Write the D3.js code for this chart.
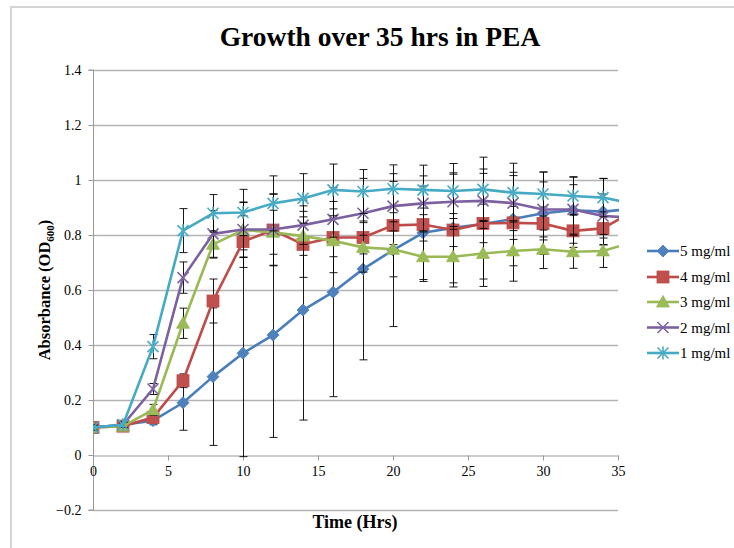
<!DOCTYPE html>
<html>
<head>
<meta charset="utf-8">
<script src="https://cdn.jsdelivr.net/npm/d3@7/dist/d3.min.js"></script>
<style>
  html, body { margin: 0; padding: 0; background: #fff; }
  svg { display: block; }
  text { font-family: "Liberation Serif", "Times New Roman", serif; fill: #000; }
</style>
</head>
<body>
<svg id="chart" width="734" height="548"></svg>
<script>
// ---- Data ----
const times = [0, 2, 4, 6, 8, 10, 12, 14, 16, 18, 20, 22, 24, 26, 28, 30, 32, 34, 36];
const seriesNames = ["5 mg/ml", "4 mg/ml", "3 mg/ml", "2 mg/ml", "1 mg/ml"];
const values5 = [0.10, 0.11, 0.125, 0.19, 0.285, 0.37, 0.436, 0.527, 0.592, 0.676, 0.745, 0.808, 0.826, 0.84, 0.858, 0.879, 0.89, 0.885, 0.895];
const errors5 = [0.01, 0.01, 0.015, 0.10, 0.25, 0.376, 0.372, 0.40, 0.38, 0.33, 0.278, 0.17, 0.20, 0.20, 0.17, 0.15, 0.12, 0.12, 0.12];
const values4 = [0.10, 0.105, 0.136, 0.27, 0.56, 0.776, 0.818, 0.766, 0.791, 0.791, 0.835, 0.838, 0.818, 0.842, 0.844, 0.842, 0.815, 0.824, 0.886];
const errors4 = [0.01, 0.01, 0.015, 0.025, 0.08, 0.094, 0.13, 0.12, 0.07, 0.06, 0.07, 0.06, 0.06, 0.07, 0.06, 0.06, 0.06, 0.06, 0.06];
const values3 = [0.10, 0.105, 0.164, 0.479, 0.766, 0.818, 0.81, 0.796, 0.779, 0.755, 0.748, 0.721, 0.721, 0.733, 0.742, 0.748, 0.739, 0.742, 0.774];
const errors3 = [0.01, 0.01, 0.02, 0.055, 0.05, 0.10, 0.08, 0.07, 0.116, 0.09, 0.10, 0.09, 0.11, 0.12, 0.11, 0.07, 0.06, 0.06, 0.06];
const values2 = [0.10, 0.11, 0.24, 0.645, 0.804, 0.82, 0.82, 0.836, 0.857, 0.879, 0.905, 0.915, 0.921, 0.924, 0.916, 0.893, 0.893, 0.869, 0.863];
const errors2 = [0.01, 0.01, 0.02, 0.057, 0.085, 0.10, 0.13, 0.07, 0.065, 0.08, 0.09, 0.10, 0.10, 0.10, 0.10, 0.10, 0.09, 0.08, 0.08];
const values1 = [0.10, 0.11, 0.394, 0.816, 0.879, 0.882, 0.915, 0.933, 0.964, 0.958, 0.968, 0.964, 0.96, 0.966, 0.954, 0.949, 0.942, 0.936, 0.914];
const errors1 = [0.01, 0.01, 0.044, 0.08, 0.068, 0.084, 0.10, 0.09, 0.094, 0.08, 0.087, 0.09, 0.10, 0.117, 0.107, 0.08, 0.07, 0.07, 0.07];
const xTicks = [0, 5, 10, 15, 20, 25, 30, 35];
const yTicks = [-0.2, 0, 0.2, 0.4, 0.6, 0.8, 1, 1.2, 1.4];

// ---- Styles ----
const colors = ["#4A7EBB", "#BE4B48", "#98B954", "#7D60A0", "#46AAC5"];
const markerFill = ["#4F81BD", "#C0504D", "#9BBB59", "#8064A2", "#4BACC6"];
const markerKind = ["diamond", "square", "triangle", "cross", "asterisk"];

const series = seriesNames.map((name, i) => ({
  name,
  values: [values5, values4, values3, values2, values1][i],
  errors: [errors5, errors4, errors3, errors2, errors1][i],
  color: colors[i], fill: markerFill[i], kind: markerKind[i]
}));

const svg = d3.select("#chart");
const x0 = 93, x1 = 618, yTop = 70, yBot = 510;

const x = d3.scaleLinear().domain([0, 35]).range([x0, x1]);
const y = d3.scaleLinear().domain([-0.2, 1.4]).range([yBot, yTop]);

// outer chart border (left/top visible)
svg.append("rect").attr("x", 11).attr("y", 7).attr("width", 800).attr("height", 600)
  .attr("fill", "none").attr("stroke", "#D4D4D4").attr("stroke-width", 2);

// title
svg.append("text").attr("x", 380).attr("y", 46).attr("text-anchor", "middle")
  .attr("font-size", 27.5).attr("font-weight", "bold").text("Growth over 35 hrs in PEA");

// gridlines
svg.append("g").selectAll("line").data(yTicks.filter(d => d !== 0)).join("line")
  .attr("x1", x0).attr("x2", x1)
  .attr("y1", d => Math.round(y(d)) + 0.5).attr("y2", d => Math.round(y(d)) + 0.5)
  .attr("stroke", "#B3B3B3").attr("stroke-width", 1.3);

// y axis
const yAxis = d3.axisLeft(y).tickValues(yTicks).tickSize(5).tickPadding(7)
  .tickFormat(d => d3.format("")(+d.toFixed(1)));
const gy = svg.append("g").attr("transform", `translate(${x0 + 0.5},0)`).call(yAxis);
gy.attr("font-family", null);
gy.select(".domain").attr("stroke", "#999").attr("d", `M-5,${yTop}H0V${yBot}H-5`);
gy.selectAll(".tick line").attr("stroke", "#999");
gy.selectAll(".tick text").attr("font-size", 14);

// x axis at y = 0
const xAxis = d3.axisBottom(x).tickValues(xTicks).tickSize(5).tickPadding(6).tickSizeOuter(0);
const gx = svg.append("g").attr("transform", `translate(0,${Math.round(y(0)) + 0.5})`).call(xAxis);
gx.attr("font-family", null);
gx.select(".domain").attr("stroke", "#999");
gx.selectAll(".tick line").attr("stroke", "#999");
gx.selectAll(".tick text").attr("font-size", 14);

// axis titles
svg.append("text").attr("x", 355).attr("y", 528).attr("text-anchor", "middle")
  .attr("font-size", 18).attr("font-weight", "bold").text("Time (Hrs)");
const yt = svg.append("text").attr("transform", "translate(50,290) rotate(-90)")
  .attr("text-anchor", "middle").attr("font-size", 16.5).attr("font-weight", "bold");
yt.append("tspan").text("Absorbance (OD");
yt.append("tspan").attr("font-size", 11).attr("dy", 4).text("600");
yt.append("tspan").attr("dy", -4).text(")");

// clip
svg.append("defs").append("clipPath").attr("id", "plotclip")
  .append("rect").attr("x", x0).attr("y", yTop - 20).attr("width", x1 - x0 + 1).attr("height", yBot - yTop + 40);

const plot = svg.append("g").attr("clip-path", "url(#plotclip)");

function drawMarker(g, kind, cx, cy, fill, stroke) {
  if (kind === "diamond") {
    g.append("path").attr("d", `M${cx},${cy - 6}L${cx + 6},${cy}L${cx},${cy + 6}L${cx - 6},${cy}Z`)
      .attr("fill", fill).attr("stroke", stroke).attr("stroke-width", 0.8);
  } else if (kind === "square") {
    g.append("rect").attr("x", cx - 6).attr("y", cy - 6).attr("width", 12).attr("height", 12)
      .attr("fill", fill).attr("stroke", stroke).attr("stroke-width", 0.8);
  } else if (kind === "triangle") {
    g.append("path").attr("d", `M${cx},${cy - 6.5}L${cx + 6.5},${cy + 5}L${cx - 6.5},${cy + 5}Z`)
      .attr("fill", fill).attr("stroke", stroke).attr("stroke-width", 0.8);
  } else if (kind === "cross") {
    g.append("path").attr("d", `M${cx - 5.5},${cy - 5.5}L${cx + 5.5},${cy + 5.5}M${cx - 5.5},${cy + 5.5}L${cx + 5.5},${cy - 5.5}`)
      .attr("stroke", fill).attr("stroke-width", 1.6).attr("fill", "none");
  } else if (kind === "asterisk") {
    g.append("path").attr("d", `M${cx - 5.5},${cy - 5.5}L${cx + 5.5},${cy + 5.5}M${cx - 5.5},${cy + 5.5}L${cx + 5.5},${cy - 5.5}M${cx},${cy - 6.5}L${cx},${cy + 6.5}`)
      .attr("stroke", fill).attr("stroke-width", 1.6).attr("fill", "none");
  }
}

const line = d3.line().x((d, i) => x(times[i])).y(d => y(d));

series.forEach(s => {
  const g = plot.append("g");
  // error bars
  s.values.forEach((v, i) => {
    const e = s.errors[i];
    const cx = Math.round(x(times[i])) + 0.5;
    const yt1 = y(v + e), yb1 = y(v - e);
    g.append("line").attr("x1", cx).attr("x2", cx).attr("y1", yt1).attr("y2", yb1)
      .attr("stroke", "#000").attr("stroke-width", 0.9);
    [yt1, yb1].forEach(yy => g.append("line").attr("x1", cx - 4).attr("x2", cx + 4)
      .attr("y1", yy).attr("y2", yy).attr("stroke", "#000").attr("stroke-width", 0.9));
  });
  // line
  g.append("path").datum(s.values).attr("d", line)
    .attr("fill", "none").attr("stroke", s.color).attr("stroke-width", 2.6)
    .attr("stroke-linejoin", "round");
  // markers
  s.values.forEach((v, i) => drawMarker(g, s.kind, x(times[i]), y(v), s.fill, s.color));
});

// legend
const legY = [251, 277, 302, 327.5, 353];
series.forEach((s, i) => {
  const g = svg.append("g");
  g.append("line").attr("x1", 647).attr("x2", 679).attr("y1", legY[i]).attr("y2", legY[i])
    .attr("stroke", s.color).attr("stroke-width", 2.6);
  drawMarker(g, s.kind, 663, legY[i], s.fill, s.color);
  g.append("text").attr("x", 680).attr("y", legY[i] + 5).attr("font-size", 15).text(s.name);
});
</script>
</body>
</html>
